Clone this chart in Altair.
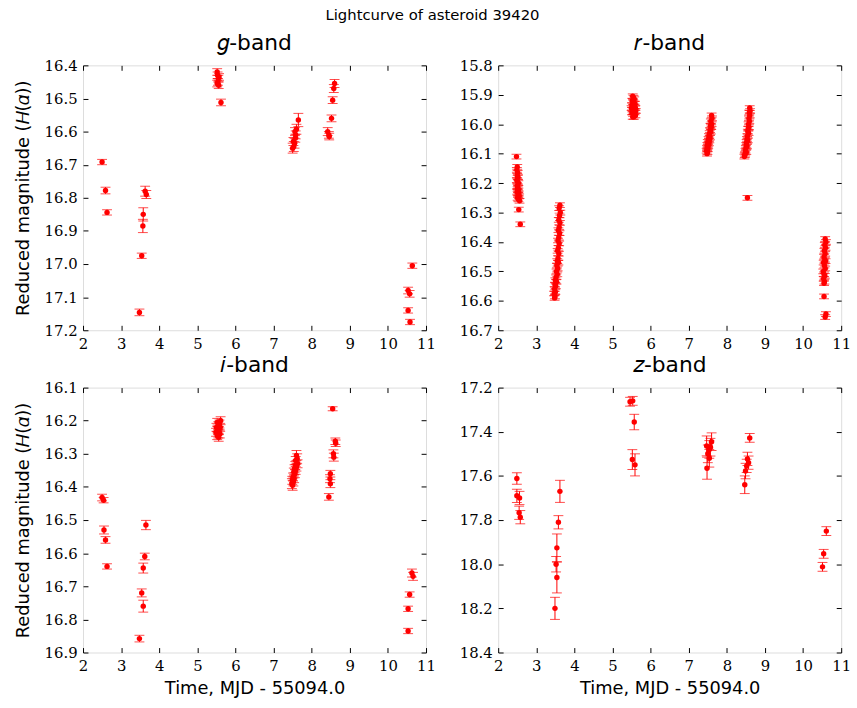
import altair as alt
import pandas as pd

# ---------------- data (time = MJD - 55094.0, reduced magnitude, error) ----------------
g_t = [2.50, 2.59, 2.63, 3.48, 3.54, 3.58, 3.57, 3.63, 3.66,
       5.52, 5.53, 5.55, 5.54, 5.56, 5.52, 5.57, 5.62,
       7.65, 7.60, 7.58, 7.57, 7.55, 7.53, 7.50, 7.52, 7.56,
       8.42, 8.45, 8.46, 8.52, 8.55, 8.58, 8.60,
       10.64, 10.53, 10.57, 10.53, 10.58]
g_m = [16.692, 16.778, 16.844, 17.146, 16.975, 16.850, 16.885, 16.780, 16.790,
       16.420, 16.430, 16.440, 16.450, 16.460, 16.455, 16.435, 16.512,
       16.565, 16.593, 16.610, 16.620, 16.635, 16.645, 16.650, 16.630, 16.600,
       16.600, 16.610, 16.615, 16.560, 16.505, 16.470, 16.455,
       17.005, 17.080, 17.090, 17.140, 17.175]
g_e = [0.008, 0.010, 0.008, 0.010, 0.008, 0.020, 0.020, 0.015, 0.012,
       0.010, 0.010, 0.010, 0.010, 0.010, 0.010, 0.010, 0.010,
       0.020, 0.015, 0.012, 0.012, 0.015, 0.015, 0.015, 0.012, 0.012,
       0.012, 0.010, 0.010, 0.010, 0.010, 0.012, 0.012,
       0.008, 0.010, 0.010, 0.008, 0.008]

r_t = [2.48, 2.50, 2.49, 2.51, 2.50, 2.52, 2.49, 2.51, 2.53, 2.50, 2.52, 2.51, 2.53,
       2.50, 2.54, 2.52, 2.55, 2.51, 2.53, 2.56, 2.54, 2.58,
       3.62, 3.60, 3.63, 3.61, 3.59, 3.62, 3.60, 3.58, 3.61, 3.59, 3.57, 3.60, 3.58,
       3.56, 3.59, 3.57, 3.55, 3.58, 3.54, 3.56, 3.53, 3.55, 3.52, 3.50, 3.53, 3.49,
       3.51, 3.48, 3.50, 3.47, 3.49, 3.48,
       5.53, 5.55, 5.57, 5.52, 5.54, 5.59, 5.51, 5.56, 5.60, 5.52, 5.55, 5.58,
       5.51, 5.54, 5.60, 5.56, 5.53, 5.58, 5.61, 5.50,
       7.60, 7.61, 7.58, 7.60, 7.57, 7.59, 7.56, 7.58, 7.55, 7.53, 7.56, 7.52,
       7.54, 7.50, 7.53, 7.49, 7.51, 7.48, 7.50, 7.47, 7.49, 7.48,
       8.60, 8.61, 8.59, 8.60, 8.58, 8.59, 8.57, 8.58, 8.56, 8.55, 8.57, 8.54,
       8.53, 8.55, 8.52, 8.51, 8.53, 8.50, 8.49, 8.51, 8.48, 8.47, 8.46, 8.54,
       10.58, 10.60, 10.57, 10.59, 10.56, 10.58, 10.55, 10.57, 10.59, 10.54, 10.56,
       10.58, 10.53, 10.55, 10.57, 10.54, 10.56, 10.55, 10.55, 10.60, 10.58]
r_m = [16.110, 16.145, 16.155, 16.165, 16.175, 16.180, 16.190, 16.195, 16.200, 16.210,
       16.215, 16.220, 16.225, 16.230, 16.235, 16.240, 16.245, 16.250, 16.255, 16.260,
       16.290, 16.340,
       16.275, 16.285, 16.300, 16.310, 16.325, 16.335, 16.350, 16.360, 16.370, 16.385,
       16.395, 16.405, 16.420, 16.430, 16.440, 16.455, 16.465, 16.470, 16.480, 16.490,
       16.500, 16.510, 16.520, 16.530, 16.535, 16.545, 16.550, 16.560, 16.570, 16.575,
       16.585, 16.590,
       15.905, 15.910, 15.915, 15.920, 15.925, 15.930, 15.935, 15.940, 15.945, 15.950,
       15.955, 15.960, 15.960, 15.965, 15.970, 15.975, 15.975, 15.940, 15.955, 15.945,
       15.970, 15.980, 15.990, 16.000, 16.005, 16.010, 16.020, 16.025, 16.030, 16.040,
       16.045, 16.050, 16.055, 16.060, 16.065, 16.070, 16.075, 16.080, 16.085, 16.090,
       16.095, 16.100,
       15.945, 15.955, 15.960, 15.970, 15.980, 15.990, 16.000, 16.010, 16.015, 16.025,
       16.030, 16.040, 16.050, 16.055, 16.060, 16.070, 16.075, 16.080, 16.090, 16.095,
       16.100, 16.105, 16.110, 16.250,
       16.390, 16.400, 16.410, 16.420, 16.430, 16.440, 16.450, 16.460, 16.465, 16.470,
       16.480, 16.490, 16.500, 16.510, 16.515, 16.525, 16.535, 16.540, 16.585, 16.645,
       16.655]
r_e = [0.008] * len(r_m)

i_t = [2.50, 2.54, 2.55, 2.59, 2.63,
       3.48, 3.54, 3.58, 3.58, 3.62, 3.65,
       5.52, 5.58, 5.55, 5.50, 5.60, 5.53, 5.57, 5.49, 5.55, 5.59, 5.52, 5.56, 5.61, 5.54,
       7.60, 7.62, 7.58, 7.63, 7.57, 7.60, 7.55, 7.58, 7.53, 7.56, 7.51, 7.54, 7.49,
       7.52, 7.48, 7.50,
       8.55, 8.62, 8.63, 8.58, 8.57, 8.49, 8.48, 8.49, 8.45,
       10.63, 10.66, 10.57, 10.53, 10.53]
i_m = [16.432, 16.440, 16.530, 16.560, 16.640,
       16.858, 16.720, 16.760, 16.645, 16.610, 16.515,
       16.205, 16.210, 16.215, 16.220, 16.220, 16.225, 16.230, 16.235, 16.240, 16.240,
       16.245, 16.250, 16.200, 16.230,
       16.305, 16.315, 16.320, 16.330, 16.335, 16.340, 16.345, 16.350, 16.355, 16.360,
       16.370, 16.375, 16.380, 16.385, 16.390, 16.395,
       16.164, 16.262, 16.268, 16.310, 16.300, 16.360, 16.375, 16.390, 16.430,
       16.660, 16.670, 16.725, 16.768, 16.835]
i_e = [0.010, 0.008, 0.012, 0.010, 0.008,
       0.010, 0.012, 0.018, 0.015, 0.010, 0.014,
       0.012, 0.012, 0.012, 0.012, 0.012, 0.012, 0.012, 0.012, 0.012, 0.012, 0.012,
       0.012, 0.012, 0.012,
       0.015, 0.015, 0.012, 0.012, 0.012, 0.012, 0.012, 0.012, 0.012, 0.012, 0.012,
       0.012, 0.012, 0.012, 0.015, 0.015,
       0.006, 0.010, 0.010, 0.012, 0.012, 0.010, 0.012, 0.012, 0.010,
       0.012, 0.012, 0.008, 0.008, 0.008]

z_t = [2.49, 2.49, 2.56, 2.55, 2.58,
       3.49, 3.52, 3.54, 3.54, 3.58, 3.62,
       5.46, 5.53, 5.57, 5.52, 5.59,
       7.47, 7.54, 7.60, 7.50, 7.54, 7.48, 7.57,
       8.60, 8.54, 8.57, 8.49, 8.47, 8.52,
       10.61, 10.54, 10.51]
z_m = [17.612, 17.690, 17.700, 17.767, 17.787,
       18.200, 18.000, 17.926, 18.060, 17.810, 17.670,
       17.264, 17.260, 17.356, 17.526, 17.550,
       17.464, 17.480, 17.445, 17.500, 17.520, 17.565, 17.470,
       17.428, 17.523, 17.540, 17.578, 17.640, 17.555,
       17.850, 17.953, 18.012]
z_e = [0.026, 0.030, 0.030, 0.030, 0.030,
       0.050, 0.035, 0.063, 0.070, 0.030, 0.050,
       0.020, 0.020, 0.035, 0.045, 0.050,
       0.045, 0.040, 0.040, 0.040, 0.040, 0.050, 0.040,
       0.020, 0.030, 0.030, 0.035, 0.040, 0.030,
       0.020, 0.020, 0.020]

x_ticks = [2, 3, 4, 5, 6, 7, 8, 9, 10, 11]
g_ticks = [16.4, 16.5, 16.6, 16.7, 16.8, 16.9, 17.0, 17.1, 17.2]
r_ticks = [15.8, 15.9, 16.0, 16.1, 16.2, 16.3, 16.4, 16.5, 16.6, 16.7]
i_ticks = [16.1, 16.2, 16.3, 16.4, 16.5, 16.6, 16.7, 16.8, 16.9]
z_ticks = [17.2, 17.4, 17.6, 17.8, 18.0, 18.2, 18.4]

RED = "#ff0000"
TICK_FONT = "DejaVu Serif"
SANS = "DejaVu Sans"
W, H = 347, 268
TS = 5


def frame(t, m, e):
    df = pd.DataFrame({"t": t, "m": m, "e": e})
    df["lo"] = df["m"] - df["e"]
    df["hi"] = df["m"] + df["e"]
    return df


def panel(df, band, yticks, yfmt, ytitle, xtitle):
    xs = alt.Scale(domain=[x_ticks[0], x_ticks[-1]], nice=False, zero=False)
    ys = alt.Scale(domain=[yticks[0], yticks[-1]], nice=False, zero=False, reverse=True)
    common = dict(grid=False, tickColor="black", tickSize=TS, offset=-TS, domain=False,
                  labelFont=TICK_FONT, labelFontSize=15, labelColor="black",
                  labelFlush=False, labelOverlap=False, labelPadding=6,
                  titleFont=SANS, titleFontSize=18, titleFontWeight="normal",
                  titleColor="black")
    xa = alt.Axis(orient="bottom", values=x_ticks, format="d",
                  title=xtitle if xtitle else None, titlePadding=6, **common)
    ya = alt.Axis(orient="left", values=yticks, format=yfmt,
                  title=ytitle if ytitle else None, titlePadding=12, **common)
    xa2 = alt.Axis(orient="top", values=x_ticks, labels=False, title=None, grid=False,
                   tickColor="black", tickSize=TS, offset=-TS, domain=False)
    ya2 = alt.Axis(orient="right", values=yticks, labels=False, title=None, grid=False,
                   tickColor="black", tickSize=TS, offset=-TS, domain=False)

    base = alt.Chart(df)
    bars = base.mark_rule(color=RED, strokeWidth=1).encode(
        x=alt.X("t:Q", scale=xs, axis=xa),
        y=alt.Y("lo:Q", scale=ys, axis=ya),
        y2="hi:Q",
    )
    cap_lo = base.mark_tick(color=RED, orient="horizontal", size=10, thickness=1).encode(
        x=alt.X("t:Q", scale=xs, axis=None),
        y=alt.Y("lo:Q", scale=ys, axis=None),
    )
    cap_hi = base.mark_tick(color=RED, orient="horizontal", size=10, thickness=1).encode(
        x=alt.X("t:Q", scale=xs, axis=None),
        y=alt.Y("hi:Q", scale=ys, axis=None),
    )
    pts = base.mark_circle(color=RED, size=30, opacity=1).encode(
        x=alt.X("t:Q", scale=xs, axis=xa2),
        y=alt.Y("m:Q", scale=ys, axis=ya2),
    )
    return alt.layer(bars, cap_lo, cap_hi, pts).resolve_axis(
        x="independent", y="independent"
    ).properties(
        width=W, height=H,
        title=alt.TitleParams(band, font=SANS, fontSize=22, fontWeight="normal",
                              color="black", offset=4),
    )


YT = "Reduced magnitude (𝐻(𝛼))"
XT = "Time, MJD - 55094.0"

gp = panel(frame(g_t, g_m, g_e), "𝑔-band", g_ticks, ".1f", YT, None)
rp = panel(frame(r_t, r_m, r_e), "𝑟-band", r_ticks, ".1f", None, None)
ip = panel(frame(i_t, i_m, i_e), "𝑖-band", i_ticks, ".1f", YT, XT)
zp = panel(frame(z_t, z_m, z_e), "𝑧-band", z_ticks, ".1f", None, XT)

chart = alt.concat(gp, rp, ip, zp, columns=2, spacing={"row": 1, "column": 22}).properties(
    title=alt.TitleParams("Lightcurve of asteroid 39420", font=SANS, fontSize=15,
                          fontWeight="normal", color="black", anchor="middle", offset=8),
    padding={"left": 14, "top": 4, "right": 5, "bottom": 5},
).configure_view(stroke="black", strokeWidth=1.5).configure(background="white")

chart.save("out.html", embed_options={"renderer": "svg", "actions": False})
